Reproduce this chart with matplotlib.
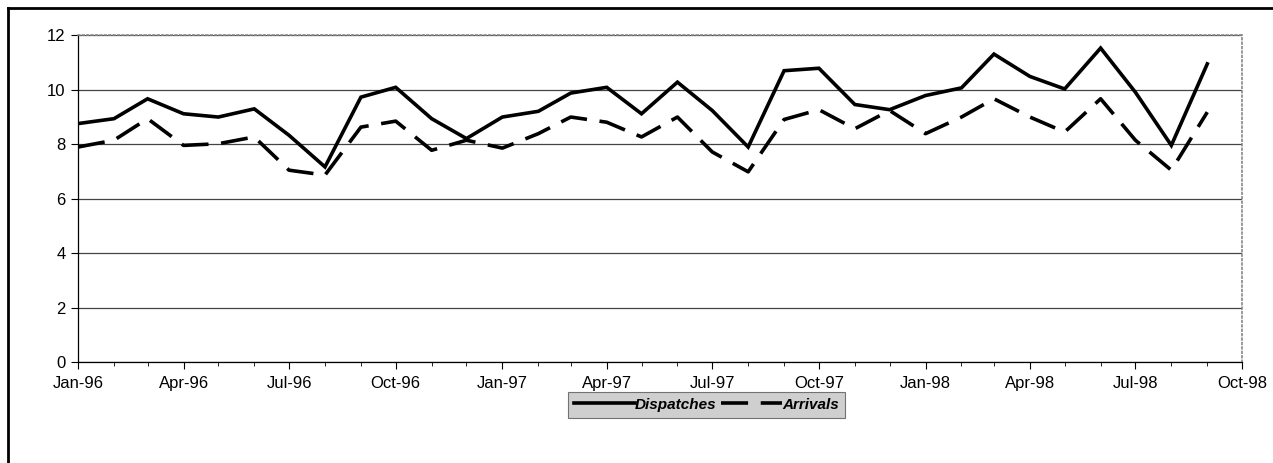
import pandas as pd
import matplotlib.pyplot as plt
import matplotlib.dates as mdates
from matplotlib.lines import Line2D

months = pd.date_range("1996-01-01", periods=33, freq="MS")

dispatches = [8.75, 8.93, 9.66, 9.11, 8.99, 9.29, 8.32, 7.16, 9.72, 10.08, 8.93, 8.2,
              8.99, 9.2, 9.87, 10.08, 9.11, 10.27, 9.23, 7.89, 10.69, 10.78, 9.45, 9.26,
              9.78, 10.06, 11.3, 10.48, 10.02, 11.52, 9.9, 7.95, 10.94]
arrivals = [7.89, 8.14, 8.93, 7.95, 8.01, 8.26, 7.04, 6.86, 8.62, 8.84, 7.77, 8.14,
            7.85, 8.38, 8.99, 8.8, 8.26, 8.99, 7.71, 6.98, 8.9, 9.26, 8.56, 9.23,
            8.38, 8.99, 9.66, 8.99, 8.44, 9.66, 8.14, 7.04, 9.17]

plt.rcParams["font.family"] = ["Liberation Sans", "DejaVu Sans"]

fig = plt.figure(figsize=(12.73, 4.63), dpi=100)
ax = fig.add_axes([0.0613, 0.218, 0.9144, 0.7064])

ax.plot(months, dispatches, color="black", lw=2.6, solid_joinstyle="miter",
        label="Dispatches")
ax.plot(months, arrivals, color="black", lw=2.6, dashes=(7.5, 3.5),
        label="Arrivals")

ax.set_ylim(0, 12)
ax.set_yticks(range(0, 13, 2))
ax.set_xlim(pd.Timestamp("1996-01-01"), pd.Timestamp("1998-10-01"))
ax.xaxis.set_major_locator(mdates.MonthLocator(bymonth=[1, 4, 7, 10]))
ax.xaxis.set_minor_locator(mdates.MonthLocator())
ax.xaxis.set_major_formatter(mdates.DateFormatter("%b-%y"))

ax.grid(True, axis="y", color="#444444", lw=0.9)
ax.set_axisbelow(True)
ax.tick_params(axis="both", labelsize=12, direction="out", length=5, width=0.8, pad=4)
ax.tick_params(axis="x", which="minor", length=3, width=0.6)
ax.tick_params(axis="x", pad=5)

for s in ["top", "right"]:
    ax.spines[s].set_color("#888888")
    ax.spines[s].set_linestyle(":")
    ax.spines[s].set_linewidth(1.2)
for s in ["left", "bottom"]:
    ax.spines[s].set_color("black")
    ax.spines[s].set_linewidth(0.9)

# outer chart border (left and top only visible)
fig.add_artist(Line2D([8 / 1273, 8 / 1273], [0, 1 - 8 / 463], color="black", lw=2))
fig.add_artist(Line2D([8 / 1273, 1], [1 - 8 / 463, 1 - 8 / 463], color="black", lw=2))

leg = fig.legend(loc="center", bbox_to_anchor=(0.555, 0.126), ncol=2,
                 handlelength=4.0, columnspacing=0.3, handletextpad=0.0,
                 borderpad=0.4, fancybox=False,
                 prop={"style": "italic", "weight": "bold", "size": 11})
frame = leg.get_frame()
frame.set_facecolor("#c4c4c4")
frame.set_edgecolor("#555555")
frame.set_linewidth(0.8)

fig.savefig("out.png", dpi=100)
